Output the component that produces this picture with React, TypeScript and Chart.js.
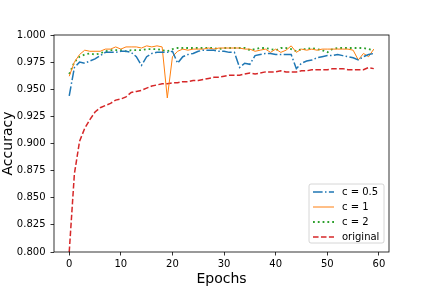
import { useEffect, useRef } from 'react';
import { Chart, registerables } from 'chart.js';

Chart.register(...registerables);

const epochs = [
  0, 1, 2, 3, 4, 5, 6, 7, 8, 9, 10, 11, 12, 13, 14, 15, 16, 17, 18, 19,
  20, 21, 22, 23, 24, 25, 26, 27, 28, 29, 30, 31, 32, 33, 34, 35, 36, 37, 38, 39,
  40, 41, 42, 43, 44, 45, 46, 47, 48, 49, 50, 51, 52, 53, 54, 55, 56, 57, 58, 59,
];

const accC05 = [
  0.944, 0.970, 0.975, 0.974, 0.976, 0.978, 0.981, 0.984, 0.984, 0.984,
  0.985, 0.985, 0.984, 0.980, 0.972, 0.980, 0.983, 0.984, 0.984, 0.984,
  0.985, 0.974, 0.980, 0.982, 0.983, 0.985, 0.986, 0.986, 0.986, 0.985,
  0.985, 0.984, 0.984, 0.970, 0.974, 0.973, 0.981, 0.982, 0.983, 0.983,
  0.982, 0.982, 0.982, 0.982, 0.969, 0.974, 0.976, 0.977, 0.979, 0.980,
  0.981, 0.981, 0.982, 0.981, 0.980, 0.979, 0.977, 0.980, 0.982, 0.983,
];

const accC1 = [
  0.962, 0.975, 0.982, 0.986, 0.985, 0.985, 0.985, 0.987, 0.987, 0.989,
  0.987, 0.989, 0.989, 0.989, 0.988, 0.990, 0.989, 0.990, 0.989, 0.942,
  0.980, 0.985, 0.987, 0.986, 0.987, 0.987, 0.987, 0.988, 0.987, 0.988,
  0.988, 0.988, 0.988, 0.988, 0.987, 0.987, 0.985, 0.986, 0.987, 0.984,
  0.987, 0.984, 0.986, 0.990, 0.984, 0.987, 0.986, 0.987, 0.986, 0.987,
  0.987, 0.987, 0.987, 0.987, 0.987, 0.986, 0.977, 0.983, 0.980, 0.987,
];

const accC2 = [
  0.964, 0.975, 0.980, 0.982, 0.983, 0.982, 0.983, 0.985, 0.986, 0.986,
  0.986, 0.985, 0.986, 0.986, 0.986, 0.987, 0.987, 0.987, 0.986, 0.985,
  0.987, 0.988, 0.988, 0.988, 0.988, 0.988, 0.988, 0.988, 0.988, 0.987,
  0.988, 0.988, 0.988, 0.988, 0.988, 0.986, 0.987, 0.988, 0.988, 0.987,
  0.986, 0.988, 0.988, 0.987, 0.985, 0.987, 0.987, 0.988, 0.987, 0.986,
  0.984, 0.987, 0.988, 0.988, 0.988, 0.988, 0.988, 0.988, 0.987, 0.986,
];

const accOriginal = [
  0.800, 0.872, 0.902, 0.914, 0.922, 0.929, 0.933, 0.935, 0.937, 0.940,
  0.941, 0.943, 0.947, 0.948, 0.949, 0.951, 0.953, 0.954, 0.955, 0.955,
  0.956, 0.956, 0.957, 0.957, 0.958, 0.958, 0.959, 0.960, 0.961, 0.961,
  0.962, 0.963, 0.963, 0.963, 0.964, 0.965, 0.964, 0.965, 0.966, 0.966,
  0.966, 0.967, 0.966, 0.966, 0.966, 0.967, 0.967, 0.968, 0.968, 0.968,
  0.968, 0.969, 0.969, 0.969, 0.968, 0.968, 0.968, 0.968, 0.970, 0.969,
];

const seriesLabels = ['c = 0.5', 'c = 1', 'c = 2', 'original'];
const xTicks = [0, 10, 20, 30, 40, 50, 60];
const yTicks = [0.8, 0.825, 0.85, 0.875, 0.9, 0.925, 0.95, 0.975, 1.0];

const FONT = 'DejaVu Sans';

const framePlugin = {
  id: 'frameAndLegend',
  afterDatasetsDraw(chart: any) {
    const { ctx, chartArea: a } = chart;
    ctx.save();
    ctx.strokeStyle = '#000';
    ctx.lineWidth = 0.8;
    ctx.setLineDash([]);
    ctx.strokeRect(a.left, a.top, a.right - a.left, a.bottom - a.top);

    // matplotlib-style legend, lower right
    const ds = chart.data.datasets;
    const boxW = 75;
    const rowH = 15;
    const boxH = rowH * ds.length - 1;
    const bx = a.right - 5 - boxW;
    const by = a.bottom - 9 - boxH;
    const r = 2;
    ctx.beginPath();
    ctx.moveTo(bx + r, by);
    ctx.lineTo(bx + boxW - r, by);
    ctx.quadraticCurveTo(bx + boxW, by, bx + boxW, by + r);
    ctx.lineTo(bx + boxW, by + boxH - r);
    ctx.quadraticCurveTo(bx + boxW, by + boxH, bx + boxW - r, by + boxH);
    ctx.lineTo(bx + r, by + boxH);
    ctx.quadraticCurveTo(bx, by + boxH, bx, by + boxH - r);
    ctx.lineTo(bx, by + r);
    ctx.quadraticCurveTo(bx, by, bx + r, by);
    ctx.closePath();
    ctx.fillStyle = 'rgba(255,255,255,0.8)';
    ctx.fill();
    ctx.strokeStyle = '#cccccc';
    ctx.lineWidth = 0.8;
    ctx.stroke();

    ctx.font = `10px "${FONT}"`;
    ctx.textBaseline = 'middle';
    ctx.textAlign = 'left';
    ds.forEach((d: any, i: number) => {
      const cy = by + 8 + i * rowH;
      ctx.beginPath();
      ctx.strokeStyle = d.borderColor;
      ctx.lineWidth = d.borderWidth;
      ctx.setLineDash(d.borderDash || []);
      ctx.moveTo(bx + 4, cy);
      ctx.lineTo(bx + 25, cy);
      ctx.stroke();
      ctx.setLineDash([]);
      ctx.fillStyle = '#000';
      ctx.fillText(d.label, bx + 33, cy);
    });
    ctx.restore();
  },
};

export default function App() {
  const ref = useRef<HTMLCanvasElement | null>(null);

  useEffect(() => {
    document.body.style.margin = '0';
    const canvas = ref.current;
    if (!canvas) return;
    const mk = (vals: number[]) => vals.map((v, i) => ({ x: epochs[i], y: v }));
    const chart = new Chart(canvas, {
      type: 'line',
      data: {
        datasets: [
          {
            label: seriesLabels[0],
            data: mk(accC05),
            borderColor: '#1f77b4',
            borderWidth: 1.5,
            borderDash: [9.6, 2.4, 1.5, 2.4],
            pointRadius: 0,
            tension: 0,
          },
          {
            label: seriesLabels[1],
            data: mk(accC1),
            borderColor: '#ff7f0e',
            borderWidth: 1,
            pointRadius: 0,
            tension: 0,
          },
          {
            label: seriesLabels[2],
            data: mk(accC2),
            borderColor: '#2ca02c',
            borderWidth: 1.8,
            borderDash: [1.8, 3],
            pointRadius: 0,
            tension: 0,
          },
          {
            label: seriesLabels[3],
            data: mk(accOriginal),
            borderColor: '#d62728',
            borderWidth: 1.5,
            borderDash: [5.55, 2.4],
            pointRadius: 0,
            tension: 0,
          },
        ],
      },
      options: {
        responsive: false,
        animation: false,
        devicePixelRatio: 1,
        layout: { padding: { left: 0, top: 35, right: 43, bottom: 0 } },
        plugins: { legend: { display: false }, tooltip: { enabled: false } },
        scales: {
          x: {
            type: 'linear',
            min: -2.95,
            max: 61.95,
            afterBuildTicks: (s: any) => {
              s.ticks = xTicks.map((v) => ({ value: v }));
            },
            afterFit: (s: any) => {
              s.height = 36;
            },
            grid: {
              drawOnChartArea: false,
              drawTicks: true,
              tickLength: 3.5,
              tickColor: '#000',
              tickWidth: 0.8,
            },
            border: { display: false },
            ticks: {
              color: '#000',
              font: { family: FONT, size: 10 },
              padding: 3,
              maxRotation: 0,
              autoSkip: false,
            },
            title: {
              display: true,
              text: 'Epochs',
              color: '#000',
              font: { family: FONT, size: 14 },
              padding: { top: 0, bottom: 0 },
            },
          },
          y: {
            type: 'linear',
            min: 0.8,
            max: 1.0,
            afterBuildTicks: (s: any) => {
              s.ticks = yTicks.map((v) => ({ value: v }));
            },
            afterFit: (s: any) => {
              s.width = 54;
            },
            grid: {
              drawOnChartArea: false,
              drawTicks: true,
              tickLength: 3.5,
              tickColor: '#000',
              tickWidth: 0.8,
            },
            border: { display: false },
            ticks: {
              color: '#000',
              font: { family: FONT, size: 10 },
              padding: 5,
              autoSkip: false,
              callback: (v: any) => Number(v).toFixed(3),
            },
            title: {
              display: true,
              text: 'Accuracy',
              color: '#000',
              font: { family: FONT, size: 14 },
              padding: { top: 0, bottom: 0 },
            },
          },
        },
      },
      plugins: [framePlugin],
    });
    return () => chart.destroy();
  }, []);

  return (
    <div style={{ position: 'absolute', left: 0, top: 0, width: 432, height: 288, background: '#fff' }}>
      <canvas ref={ref} width={432} height={288} style={{ width: 432, height: 288 }} />
    </div>
  );
}
